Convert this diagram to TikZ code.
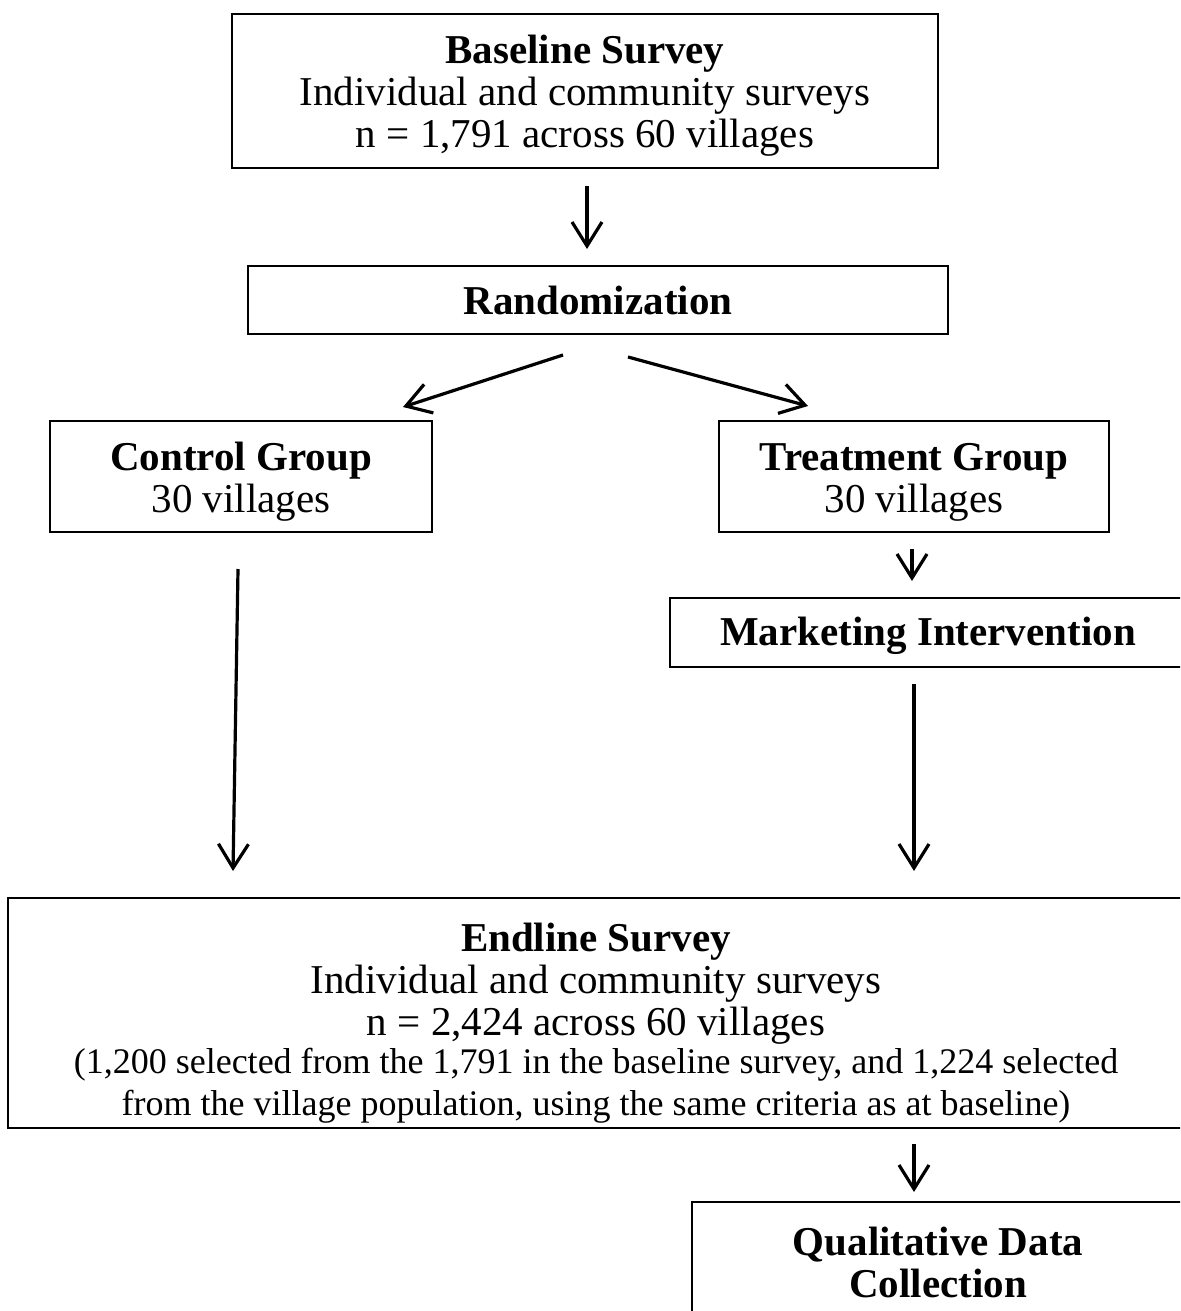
\documentclass[tikz,border=0pt]{standalone}
\usepackage{fontspec}
\setmainfont{Liberation Serif}
\usetikzlibrary{positioning, calc, arrows.meta}
\newcommand{\lift}[1]{\rule{0pt}{#1}}

\begin{document}
\begin{tikzpicture}[x=0.5pt, y=-0.5pt]
    \tikzstyle{stage}=[draw, rectangle, line width=1pt, align=center, inner sep=0pt, font=\fontsize{20.5}{21}\selectfont];
    \tikzstyle{flow}=[-{Straight Barb[length=12pt, width=15pt]}, line width=1.6pt];
    \clip (0,0) rectangle (1180,1311);
    \fill[white] (0,0) rectangle (1180,1311);

    \node[stage, minimum width=353pt, minimum height=77pt] (baseline) at (585,91) {\lift{19pt}\textbf{Baseline Survey}\\Individual and community surveys\\n = 1,791 across 60 villages};
    \node[stage, minimum width=350pt, minimum height=34pt] (random) at (598,300) {\textbf{Randomization}};
    \node[stage, minimum width=191pt, minimum height=55.5pt] (control) at (241,476.5) {\lift{19pt}\textbf{Control Group}\\30 villages};
    \node[stage, minimum width=195pt, minimum height=55.5pt] (treatment) at (914,476.5) {\lift{19pt}\textbf{Treatment Group}\\30 villages};
    \node[stage, minimum width=258pt, minimum height=34.5pt] (marketing) at (928,632.5) {\lift{18pt}\textbf{Marketing Intervention}};
    \node[stage, minimum width=588pt, minimum height=115pt] (endline) at (596,1013) {\lift{24pt}\textbf{Endline Survey}\\Individual and community surveys\\n = 2,424 across 60 villages\\[-2pt]{\fontsize{18}{20}\selectfont (1,200 selected from the 1,791 in the baseline survey, and 1,224 selected}\\{\fontsize{18}{20}\selectfont from the village population, using the same criteria as at baseline)}};
    \node[stage, minimum width=246pt, minimum height=60pt] (qual) at (938,1262) {\textbf{Qualitative Data}\\\textbf{Collection}};

    \draw[flow] ($(baseline.south)+(2,17)$) -- ($(baseline.south |- random.north)+(2,-16)$);
    \draw[flow] ($(random.south)+(-35,20)$) -- ($(control.north)+(162,-13)$);
    \draw[flow] ($(random.south)+(30,22)$) -- ($(treatment.north)+(-106,-14)$);
    \draw[flow] ($(treatment.south)+(-2,16)$) -- ($(treatment.south |- marketing.north)+(-2,-16)$);
    \draw[flow] ($(control.south)+(-3,36)$) -- ($(control.south |- endline.north)+(-8,-26)$);
    \draw[flow] ($(treatment.south |- marketing.south)+(0,16)$) -- ($(treatment.south |- endline.north)+(0,-26)$);
    \draw[flow] ($(treatment.south |- endline.south)+(0,15)$) -- ($(treatment.south |- qual.north)+(0,-9)$);
\end{tikzpicture}
\end{document}
